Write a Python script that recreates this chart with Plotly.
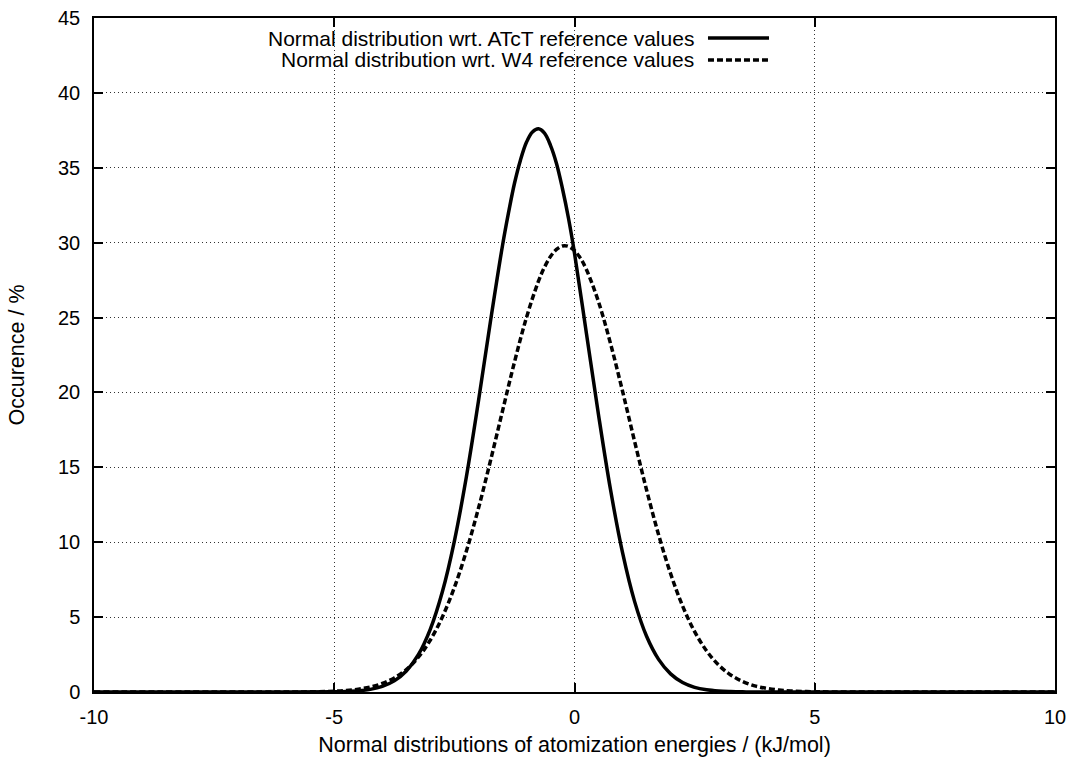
import plotly.graph_objects as go

# x positions (kJ/mol) and occurrence (%)
x_atct = [-10, -6, -5, -4.75, -4.5, -4.25, -4, -3.75, -3.5, -3.25, -3, -2.75, -2.5, -2.25, -2,
          -1.75, -1.5, -1.375, -1.25, -1.125, -1, -0.875, -0.75, -0.625, -0.5, -0.375, -0.25, -0.125,
          0, 0.25, 0.5, 0.75, 1, 1.25, 1.5, 1.75, 2, 2.25, 2.5, 2.75, 3, 3.25, 3.5, 4, 10]
y_atct = [0, 0.001, 0.014, 0.034, 0.080, 0.177, 0.373, 0.742, 1.40, 2.49, 4.20, 6.69, 10.08, 14.37, 19.39,
          24.72, 29.78, 31.97, 33.95, 35.51, 36.7, 37.39, 37.6, 37.31, 36.5, 35.29, 33.6, 31.63,
          29.3, 23.9, 18.5, 13.5, 9.3, 6.05, 3.72, 2.18, 1.21, 0.632, 0.313, 0.147, 0.065, 0.028, 0.011, 0.001, 0]

x_w4 = [-10, -6, -5.5, -5, -4.75, -4.5, -4.25, -4, -3.75, -3.5, -3.25, -3, -2.75, -2.5, -2.25, -2,
        -1.75, -1.5, -1.25, -1, -0.75, -0.625, -0.5, -0.375, -0.25, -0.125, 0, 0.125, 0.25, 0.5, 0.75,
        1, 1.25, 1.5, 1.75, 2, 2.25, 2.5, 2.75, 3, 3.25, 3.5, 3.75, 4, 4.25, 4.5, 5, 5.5, 10]
y_w4 = [0, 0.001, 0.013, 0.054, 0.102, 0.187, 0.331, 0.567, 0.939, 1.50, 2.32, 3.47, 5.01, 6.98, 9.41, 12.25,
        15.42, 18.74, 22.02, 25.00, 27.43, 28.36, 29.07, 29.55, 29.78, 29.75, 29.47, 28.95, 28.19, 26.05, 23.26,
        20.08, 16.74, 13.49, 10.50, 7.90, 5.74, 4.03, 2.74, 1.80, 1.14, 0.70, 0.41, 0.24, 0.13, 0.07, 0.018, 0.004, 0]

name_atct = "Normal distribution wrt. ATcT reference values"
name_w4 = "Normal distribution wrt. W4 reference values"

x_ticks = [-10, -5, 0, 5, 10]
x_ticktext = ["-10", "-5", "0", "5", "10"]
y_ticks = [0, 5, 10, 15, 20, 25, 30, 35, 40, 45]

FONT = "Liberation Sans, Arial, Helvetica, sans-serif"

fig = go.Figure()
fig.add_trace(go.Scatter(x=x_atct, y=y_atct, mode="lines", name=name_atct,
                         line=dict(color="black", width=3.5, shape="spline", smoothing=1.0)))
fig.add_trace(go.Scatter(x=x_w4, y=y_w4, mode="lines", name=name_w4,
                         line=dict(color="black", width=3.5, dash="6px,3px", shape="spline", smoothing=1.0)))

# gnuplot-style key: text right-aligned with line sample to the right
key_rows = [(name_atct, "solid", 0.9703), (name_w4, "6px,3px", 0.9377)]
for txt, dash, yy in key_rows:
    fig.add_annotation(x=0.6244, y=yy, xref="paper", yref="paper", text=txt, showarrow=False,
                       xanchor="right", yanchor="middle", xshift=2,
                       font=dict(family=FONT, size=21, color="black"))
    fig.add_shape(type="line", xref="paper", yref="paper", x0=0.6389, x1=0.7024, y0=yy, y1=yy,
                  line=dict(color="black", width=3.5, dash=dash))

axis_common = dict(showline=True, linecolor="black", linewidth=1.5, mirror="ticks",
                   ticks="inside", ticklen=9, tickwidth=1.5, tickcolor="black",
                   showgrid=True, gridcolor="#333333", gridwidth=1, griddash="1px,3px",
                   zeroline=False, tickfont=dict(family=FONT, size=20, color="black"))

fig.update_xaxes(range=[-10, 10], tickvals=x_ticks, ticktext=x_ticktext, ticklabelstandoff=6,
                 title=dict(text="Normal distributions of atomization energies / (kJ/mol)",
                            font=dict(family=FONT, size=21.5, color="black"), standoff=11),
                 **axis_common)
fig.update_yaxes(range=[0, 45], tickvals=y_ticks, ticklabelstandoff=8,
                 title=dict(text="Occurence / %", font=dict(family=FONT, size=21.5, color="black"), standoff=27),
                 **axis_common)

fig.update_layout(width=1071, height=757, showlegend=False,
                  margin=dict(l=94, r=16, t=18, b=65, autoexpand=False),
                  paper_bgcolor="white", plot_bgcolor="white",
                  font=dict(family=FONT, size=20, color="black"))

fig.write_html("out.html", config={"displayModeBar": False},
               post_script="document.body.style.margin='0px';document.body.style.overflow='hidden';")
